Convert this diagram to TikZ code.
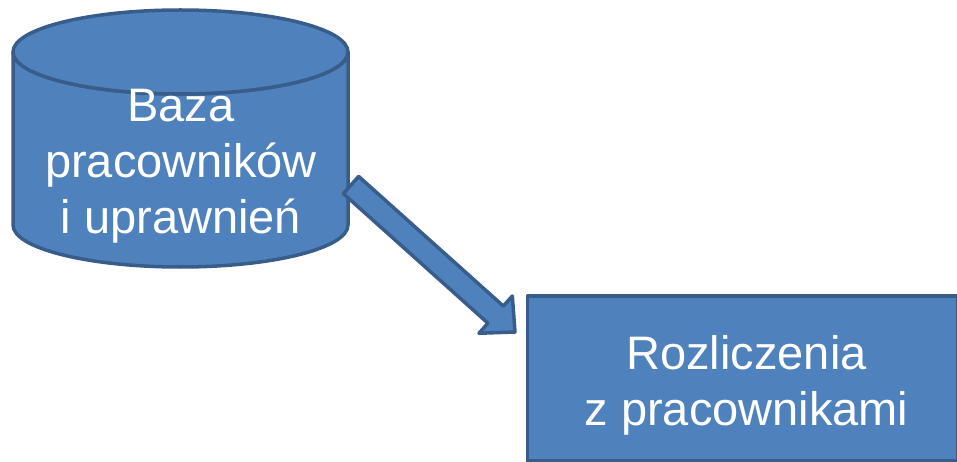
\documentclass[tikz,border=0pt]{standalone}
\usepackage{fontspec}
\setmainfont{Liberation Sans}
\usetikzlibrary{calc}
\definecolor{boxfill}{HTML}{4F81BD}
\definecolor{boxline}{HTML}{385D8A}
\tikzset{
  shapestyle/.style={fill=boxfill, draw=boxline, line width=3.5pt, line join=round},
  bigtext/.style={text=white, align=center, font=\fontsize{47}{56}\selectfont, inner sep=0pt}
}
\begin{document}
\begin{tikzpicture}[x=1pt,y=-1pt]
\useasboundingbox (0,0) rectangle (957,462);
\clip (0,0) rectangle (957,462);
% cylinder (database)
\path[shapestyle] (13,52) -- (13,225) arc[start angle=180, end angle=360, x radius=167.5, y radius=-42] -- (348,52) arc[start angle=0, end angle=-180, x radius=167.5, y radius=-42] -- cycle;
\draw[shapestyle] (180.5,52) ellipse[x radius=167.5, y radius=42];
\node[bigtext] (baza) at (181,166) {Baza\\pracowników\\i uprawnień};
% rectangle
\node[shapestyle, minimum width=430pt, minimum height=165pt, inner sep=0pt] (rozl) at (742.5,378.5) {};
\node[bigtext] (rozltext) at ($(rozl.center)+(4,7)$) {Rozliczenia\\z pracownikami};
% block arrow
\coordinate (tail) at (351,185);
\coordinate (tip) at (515,332);
\coordinate (hb) at ($(tip)!26pt!(tail)$);
\path[shapestyle]
  ($(tail)!11.5pt!90:(tip)$) --
  ($(hb)!11.5pt!-90:(tail)$) --
  ($(hb)!25pt!-90:(tail)$) --
  (tip) --
  ($(hb)!25pt!90:(tail)$) --
  ($(hb)!11.5pt!90:(tail)$) --
  ($(tail)!11.5pt!-90:(tip)$) -- cycle;
\end{tikzpicture}
\end{document}
